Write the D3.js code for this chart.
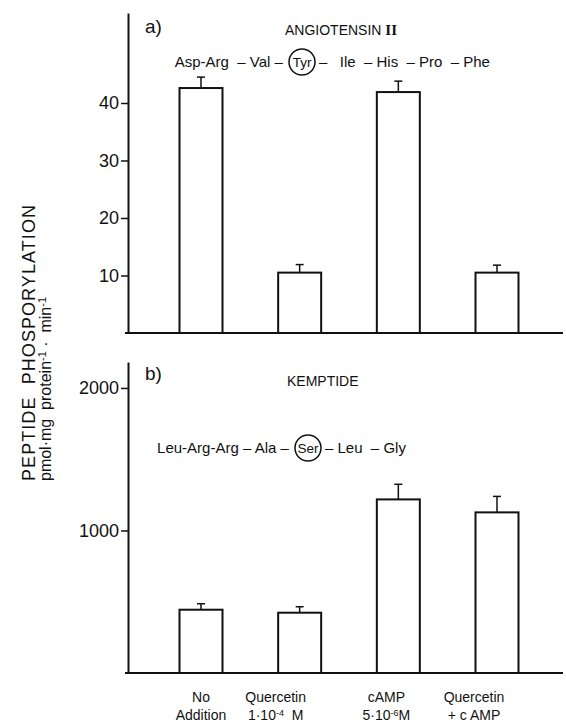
<!DOCTYPE html>
<html>
<head>
<meta charset="utf-8">
<script src="https://cdn.jsdelivr.net/npm/d3@7"></script>
<style>
    body { margin: 0; background: #fff; }
    text { font-family: "Liberation Sans", Arial, sans-serif; fill: #111; }
</style>
</head>
<body>
<div id="canvas"></div>
<script>
"use strict"

// treatments along the x axis
let treatments = ["No Addition", "Quercetin", "cAMP", "Quercetin + cAMP"]

// a) angiotensin II, pmol/mg protein/min
let angiotensin = [42.6, 10.5, 41.9, 10.5]
let angiotensinErr = [1.9, 1.4, 1.9, 1.3]
let angiotensinTicks = [10, 20, 30, 40]

// b) kemptide
let kemptide = [444, 423, 1218, 1127]
let kemptideErr = [42, 42, 106, 112]
let kemptideTicks = [1000, 2000]

// odd parts of a line are superscripts
let tickLabels = [
    [["No"], ["Addition"]],
    [["Quercetin"], ["1·10", "-4", "  M"]],
    [["cAMP"], ["5·10", "-6", "M"]],
    [["Quercetin"], ["+ c AMP"]]
]

// peptide sequences, middle piece is circled
let angiotensinSeq = ["Asp-Arg  – Val – ", "Tyr", "–   Ile  – His  – Pro  – Phe"]
let kemptideSeq = ["Leu-Arg-Arg – Ala – ", "Ser", "– Leu  – Gly"]

let svgWidth = 566
let svgHeight = 725
let axisX = 128
let barWidth = 43

let svg = d3.select("#canvas")
    .append("svg")
    .attr("width", svgWidth)
    .attr("height", svgHeight)

let xScale = d3.scalePoint()
    .domain(treatments)
    .range([201, 497])

let labelShift = [0, -24, -12, -23]

let panels = [
    {
        values: angiotensin, errs: angiotensinErr, ticks: angiotensinTicks,
        yScale: d3.scaleLinear().domain([0, 55.65]).range([333, 13]),
        tag: "a)", tagY: 33, title: "ANGIOTENSIN ", roman: "II", titleX: 285, titleY: 35,
        seq: angiotensinSeq, seqCx: 302, seqY: 67
    },
    {
        values: kemptide, errs: kemptideErr, ticks: kemptideTicks,
        yScale: d3.scaleLinear().domain([0, 2182]).range([673, 362]),
        tag: "b)", tagY: 380, title: "KEMPTIDE", roman: "", titleX: 287, titleY: 386,
        seq: kemptideSeq, seqCx: 308, seqY: 453
    }
]

panels.forEach(drawPanel)

function drawPanel(p) {
    let g = svg.append("g")
    let y = p.yScale

    let axis = g.append("g")
        .attr("transform", `translate(${axisX},0)`)
        .call(d3.axisLeft(y).tickValues(p.ticks).tickFormat(d3.format("d"))
            .tickSize(7).tickSizeOuter(0).tickPadding(2))
    axis.select(".domain").attr("stroke", "#111").attr("stroke-width", 2)
    axis.selectAll(".tick line").attr("stroke", "#111").attr("stroke-width", 1.5)
    axis.selectAll(".tick text")
        .attr("fill", "#111")
        .style("font-family", "'Liberation Sans', Arial, sans-serif")
        .style("font-size", "18px")

    // base line
    g.append("line")
        .attr("x1", axisX - 3)
        .attr("x2", 563)
        .attr("y1", y(0))
        .attr("y2", y(0))
        .attr("stroke", "#111")
        .attr("stroke-width", 2)

    g.selectAll("rect.bar")
        .data(p.values)
        .join("rect")
        .classed("bar", true)
        .attr("x", function (value, i) {
            return xScale(treatments[i]) - barWidth / 2
        })
        .attr("y", function (value) {
            return y(value)
        })
        .attr("width", barWidth)
        .attr("height", function (value) {
            return y(0) - y(value)
        })
        .attr("fill", "#fff")
        .attr("stroke", "#111")
        .attr("stroke-width", 2)

    g.selectAll("line.err")
        .data(p.values)
        .join("line")
        .classed("err", true)
        .attr("x1", function (value, i) { return xScale(treatments[i]) })
        .attr("x2", function (value, i) { return xScale(treatments[i]) })
        .attr("y1", function (value) { return y(value) })
        .attr("y2", function (value, i) { return y(value + p.errs[i]) })
        .attr("stroke", "#111")
        .attr("stroke-width", 1.5)

    g.selectAll("line.cap")
        .data(p.values)
        .join("line")
        .classed("cap", true)
        .attr("x1", function (value, i) { return xScale(treatments[i]) - 4 })
        .attr("x2", function (value, i) { return xScale(treatments[i]) + 4 })
        .attr("y1", function (value, i) { return y(value + p.errs[i]) })
        .attr("y2", function (value, i) { return y(value + p.errs[i]) })
        .attr("stroke", "#111")
        .attr("stroke-width", 1.5)

    g.append("text")
        .attr("x", 145)
        .attr("y", p.tagY)
        .style("font-size", "19px")
        .text(p.tag)

    let title = g.append("text")
        .attr("x", p.titleX)
        .attr("y", p.titleY)
        .attr("xml:space", "preserve")
        .style("font-size", "14px")
    title.append("tspan").text(p.title)
    title.append("tspan")
        .style("font-family", "'Liberation Serif', serif")
        .style("font-weight", "bold")
        .style("font-size", "15px")
        .text(p.roman)

    drawSequence(g, p)
}

function drawSequence(g, p) {
    let cx = p.seqCx
    let yPos = p.seqY
    g.append("text")
        .attr("x", cx - 15)
        .attr("y", yPos)
        .attr("text-anchor", "end")
        .attr("xml:space", "preserve")
        .style("font-size", "15px")
        .text(p.seq[0])
    g.append("text")
        .attr("x", cx)
        .attr("y", yPos)
        .attr("text-anchor", "middle")
        .style("font-size", "13.5px")
        .text(p.seq[1])
    g.append("circle")
        .attr("cx", cx)
        .attr("cy", yPos - 5)
        .attr("r", 13)
        .attr("fill", "none")
        .attr("stroke", "#111")
        .attr("stroke-width", 1.5)
    g.append("text")
        .attr("x", cx + 17)
        .attr("y", yPos)
        .attr("xml:space", "preserve")
        .style("font-size", "15px")
        .text(p.seq[2])
}

// x tick labels
let labels = svg.append("g")
tickLabels.forEach(function (lines, i) {
    lines.forEach(function (parts, j) {
        let t = labels.append("text")
            .attr("x", xScale(treatments[i]) + labelShift[i])
            .attr("y", 702 + j * 18)
            .attr("text-anchor", "middle")
            .attr("xml:space", "preserve")
            .style("font-size", "14px")
        parts.forEach(function (part, k) {
            let s = t.append("tspan").text(part)
            if (k % 2 === 1) {
                s.attr("dy", -4).style("font-size", "9px")
            } else if (k > 0) {
                s.attr("dy", 4)
            }
        })
    })
})

// y axis title, two lines
let yTitle = svg.append("g")
yTitle.append("text")
    .attr("transform", "translate(35,481) rotate(-90)")
    .attr("textLength", 276)
    .attr("xml:space", "preserve")
    .style("font-size", "18px")
    .text("PEPTIDE  PHOSPORYLATION")

let unit = yTitle.append("text")
    .attr("transform", "translate(51,481) rotate(-90)")
    .attr("xml:space", "preserve")
    .style("font-size", "16px")
unit.append("tspan").text("pmol·mg  protein")
unit.append("tspan").attr("dy", -5).style("font-size", "11px").text("-1")
unit.append("tspan").attr("dy", 5).text(" ·  min")
unit.append("tspan").attr("dy", -5).style("font-size", "11px").text("-1")
</script>
</body>
</html>
